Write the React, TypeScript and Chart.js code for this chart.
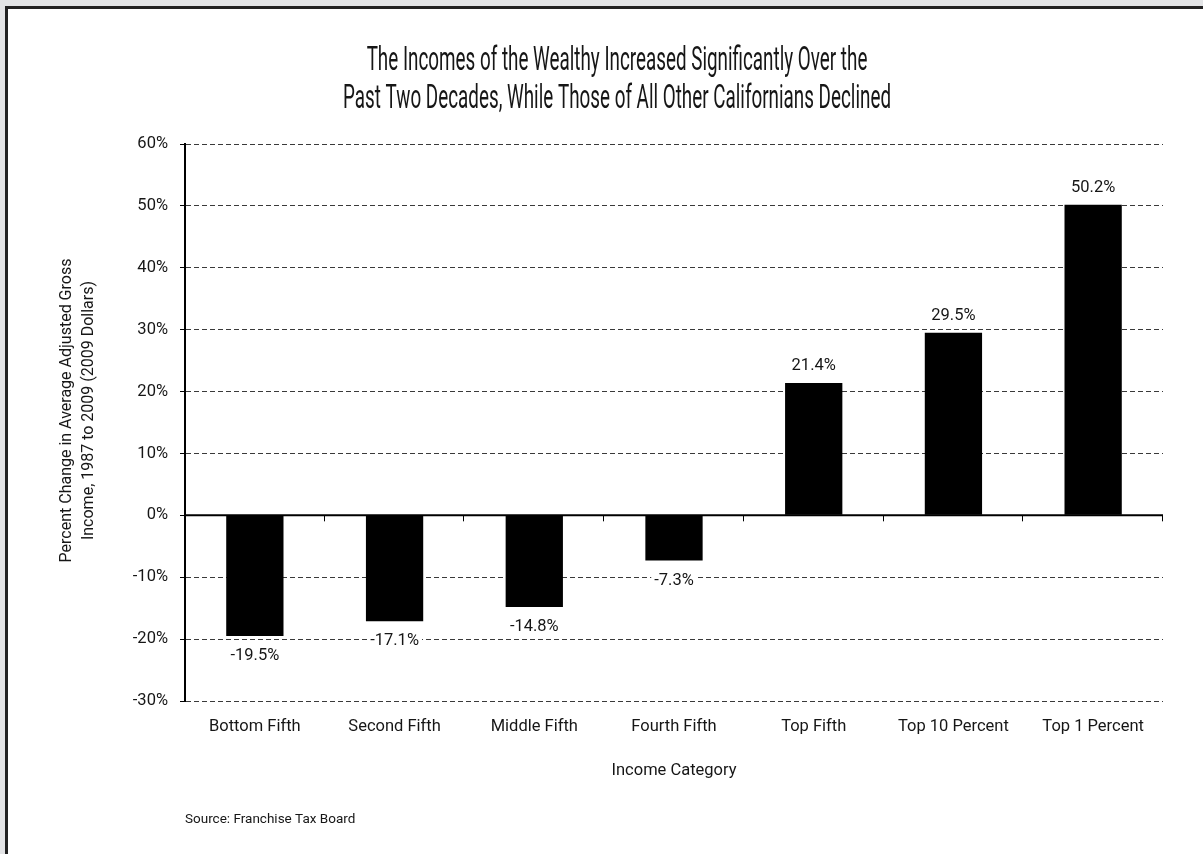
import React, { useEffect, useRef } from "react";
import { Chart, registerables } from "chart.js";

Chart.register(...registerables);

const categories = [
  "Bottom Fifth",
  "Second Fifth",
  "Middle Fifth",
  "Fourth Fifth",
  "Top Fifth",
  "Top 10 Percent",
  "Top 1 Percent",
];
const values = [-19.5, -17.1, -14.8, -7.3, 21.4, 29.5, 50.2];
const yMin = -30;
const yMax = 60;
const yStep = 10;
const titleLines = [
  "The Incomes of the Wealthy Increased Significantly Over the",
  "Past Two Decades, While Those of All Other Californians Declined",
];
const yTitleLines = [
  "Percent Change in Average Adjusted Gross",
  "Income, 1987 to 2009 (2009 Dollars)",
];
const xTitle = "Income Category";
const sourceText = "Source: Franchise Tax Board";

const W = 1203;
const H = 854;
const FONT = "Roboto, 'Liberation Sans', sans-serif";
const TEXT = "#161616";

const decorPlugin = {
  id: "decor",
  afterDatasetsDraw(chart: any) {
    const ctx = chart.ctx as CanvasRenderingContext2D;
    const area = chart.chartArea;
    const y = chart.scales.y;
    const y0 = y.getPixelForValue(0);
    ctx.save();
    // zero line
    ctx.strokeStyle = "#000";
    ctx.lineWidth = 2;
    ctx.beginPath();
    ctx.moveTo(area.left, y0);
    ctx.lineTo(area.right, y0);
    ctx.stroke();
    // category boundary ticks
    ctx.lineWidth = 1;
    const n = categories.length;
    for (let i = 1; i <= n; i++) {
      const px = Math.round(area.left + ((area.right - area.left) * i) / n) - 0.5;
      ctx.beginPath();
      ctx.moveTo(px, y0);
      ctx.lineTo(px, y0 + 6);
      ctx.stroke();
    }
    // data labels
    const meta = chart.getDatasetMeta(0);
    ctx.font = `16.5px ${FONT}`;
    ctx.textAlign = "center";
    ctx.textBaseline = "middle";
    meta.data.forEach((bar: any, i: number) => {
      const v = values[i];
      const label = `${v.toFixed(1)}%`;
      const cy = v >= 0 ? bar.y - 17 : bar.y + 20;
      const w = ctx.measureText(label).width + 6;
      ctx.fillStyle = "#fff";
      ctx.fillRect(bar.x - w / 2, cy - 9, w, 18);
      ctx.fillStyle = TEXT;
      ctx.fillText(label, bar.x, cy);
    });
    ctx.restore();
  },
  afterDraw(chart: any) {
    const ctx = chart.ctx as CanvasRenderingContext2D;
    const area = chart.chartArea;
    ctx.save();
    ctx.fillStyle = TEXT;
    // title (very condensed)
    ctx.font = `34px ${FONT}`;
    ctx.textBaseline = "alphabetic";
    ctx.textAlign = "center";
    const targetW = 548;
    const measured = ctx.measureText(titleLines[1]).width;
    const sx = targetW / measured;
    const tcx = 617;
    const baselines = [70, 108];
    titleLines.forEach((line, i) => {
      ctx.save();
      ctx.translate(tcx, baselines[i]);
      ctx.scale(sx, 1);
      ctx.fillText(line, 0, 0);
      ctx.restore();
    });
    // y title
    ctx.font = `16px ${FONT}`;
    ctx.textBaseline = "middle";
    ctx.textAlign = "center";
    const yc = (area.top + area.bottom) / 2 - 12;
    const xs = [67, 89];
    yTitleLines.forEach((line, i) => {
      ctx.save();
      ctx.translate(xs[i], yc);
      ctx.rotate(-Math.PI / 2);
      ctx.fillText(line, 0, 0);
      ctx.restore();
    });
    // x title
    ctx.font = `16.5px ${FONT}`;
    ctx.fillText(xTitle, (area.left + area.right) / 2, 771);
    // source
    ctx.font = `13.5px ${FONT}`;
    ctx.textAlign = "left";
    ctx.fillText(sourceText, 185, 820);
    ctx.restore();
  },
};

export default function App() {
  const ref = useRef<HTMLCanvasElement | null>(null);

  useEffect(() => {
    const canvas = ref.current;
    if (!canvas) return;
    const padLeft = 100;
    const padBottom = 0;
    const chart = new Chart(canvas, {
      type: "bar",
      data: {
        labels: categories,
        datasets: [
          {
            data: values,
            backgroundColor: "#000",
            borderWidth: 0,
            categoryPercentage: 1,
            barPercentage: 0.41,
          },
        ],
      },
      options: {
        animation: false,
        responsive: false,
        devicePixelRatio: 1,
        layout: { padding: { top: 144, left: padLeft, right: 40, bottom: padBottom } },
        plugins: {
          legend: { display: false },
          tooltip: { enabled: false },
          title: { display: false },
        },
        scales: {
          x: {
            grid: { display: false, drawTicks: false },
            border: { display: false },
            ticks: {
              color: TEXT,
              font: { family: FONT, size: 16.5 },
              padding: 16,
              maxRotation: 0,
              autoSkip: false,
            },
            afterFit: (scale: any) => {
              scale.height = H - 701 - padBottom;
            },
          },
          y: {
            min: yMin,
            max: yMax,
            ticks: {
              stepSize: yStep,
              color: TEXT,
              font: { family: FONT, size: 16.5 },
              padding: 12,
              callback: (v: any) => `${v}%`,
            },
            grid: {
              color: "#3a3a3a",
              lineWidth: 1,
              tickLength: 5,
              tickColor: "#000",
              tickBorderDash: [],
            },
            border: { display: true, color: "#000", width: 2, dash: [5, 3] },
            afterFit: (scale: any) => {
              scale.width = 185 - padLeft;
            },
          },
        },
      },
      plugins: [decorPlugin],
    });
    return () => chart.destroy();
  }, []);

  return (
    <div style={{ position: "fixed", left: 0, top: 0, width: W, height: H, background: "#e3e4e6", overflow: "hidden" }}>
      <div
        style={{
          position: "absolute",
          left: 5,
          top: 6,
          width: W + 20,
          height: H + 20,
          background: "#fff",
          borderLeft: "3px solid #222",
          borderTop: "3px solid #222",
        }}
      />
      <canvas ref={ref} width={W} height={H} style={{ position: "absolute", left: 0, top: 0, width: W, height: H }} />
    </div>
  );
}
